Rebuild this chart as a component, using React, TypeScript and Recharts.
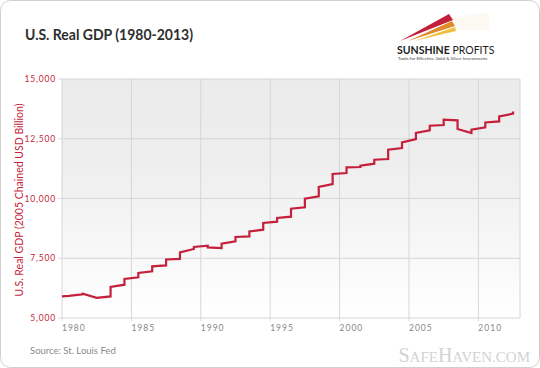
import React from "react";
import { CartesianGrid, Line, LineChart, XAxis, YAxis } from "recharts";

// values (billions of chained 2005 USD)
const startYear = 1980;
const startGdp = 5904;

const stepYears = [
  1980.5, 1981.5, 1982.5, 1983.5, 1984.5, 1985.5, 1986.5, 1987.5, 1988.5, 1989.5, 1990.5,
  1991.5, 1992.5, 1993.5, 1994.5, 1995.5, 1996.5, 1997.5, 1998.5, 1999.5, 2000.5, 2001.5,
  2002.5, 2003.5, 2004.5, 2005.5, 2006.5, 2007.5, 2008.5, 2009.5, 2010.5, 2011.5, 2012.5
];

const gdpBeforeStep = [
  5925, 5995, 5840, 5904, 6393, 6699, 6951, 7201, 7475, 7887, 8025,
  7929, 8205, 8414, 8694, 9032, 9241, 9630, 10088, 10607, 11067, 11318,
  11456, 11652, 12113, 12489, 12851, 13075, 13268, 12740, 12975, 13226, 13548
];

const gdpAfterStep = [
  5925, 6015, 5840, 6297, 6632, 6883, 7160, 7450, 7745, 7970, 7955,
  8109, 8389, 8623, 8975, 9185, 9573, 9992, 10481, 11025, 11301, 11372,
  11623, 12042, 12347, 12740, 13046, 13297, 12908, 12879, 13184, 13435, 13644
];

const yearTicks = [1980, 1985, 1990, 1995, 2000, 2005, 2010];
const gdpTicks = [5000, 7500, 10000, 12500, 15000];

const data = [{ year: startYear, gdp: startGdp }];
stepYears.forEach((y, i) => {
  data.push({ year: y, gdp: gdpBeforeStep[i] });
  data.push({ year: y, gdp: gdpAfterStep[i] });
});

const RED = "#c41f3b";
const fmt = new Intl.NumberFormat("en-US");

function YearTick(props: any) {
  const { x, y, payload } = props;
  return (
    <text x={x} y={y + 8} textAnchor="start" fontSize={8.5} letterSpacing={1} fill="#888" fontFamily="Lato">
      {payload.value}
    </text>
  );
}

function GdpTick(props: any) {
  const { x, y, payload } = props;
  return (
    <text x={x} y={y + 3} textAnchor="end" fontSize={8.5} letterSpacing={0.8} fill={RED} fontFamily="Lato">
      {fmt.format(payload.value)}
    </text>
  );
}

export default function App() {
  return (
    <div style={{ position: "absolute", left: 0, top: 0, width: 540, height: 368, background: "#fff" }}>
      <svg width={540} height={368} style={{ position: "absolute", left: 0, top: 0 }}>
        <rect x={0.5} y={0.5} width={539} height={367} rx={10} fill="#fff" stroke="#cfcfcf" />
        <text
          x={25}
          y={40}
          fontFamily="Lato"
          fontWeight="bold"
          fontSize={16}
          fill="#2e2e2e"
          textLength={168}
          lengthAdjust="spacingAndGlyphs"
        >
          U.S. Real GDP (1980-2013)
        </text>
        {/* logo */}
        <polygon points="453,18 488,12 490,30 456,30" fill="#f3e3cc" opacity={0.25} />
        <polygon points="400,41 449,14 453,20" fill="#c41f3b" />
        <polygon points="408,41 452,21 455,26" fill="#e08a2a" />
        <polygon points="414,41 455,27 456,31" fill="#f0c040" />
        <text x={397} y={54} fontFamily="Lato" fontSize={10.5} fill="#222">
          <tspan fontWeight="bold">SUNSHINE</tspan>
          <tspan> PROFITS</tspan>
        </text>
        <text x={398} y={60} fontFamily="Lato" fontSize={4.6} fill="#444">
          Tools for Effective Gold &amp; Silver Investments
        </text>
        <text
          transform="translate(23,200) rotate(-90)"
          textAnchor="middle"
          fontFamily="Lato"
          fontSize={10.5}
          fill={RED}
        >
          U.S. Real GDP (2005 Chained USD Billion)
        </text>
        <text x={30} y={354} fontFamily="Lato" fontSize={9.5} fill="#8a8a8a">
          Source: St. Louis Fed
        </text>
        <text x={530} y={362} textAnchor="end" fontFamily="Liberation Serif" fill="#d2d2d2">
          <tspan fontSize={20}>S</tspan>
          <tspan fontSize={15}>AFE</tspan>
          <tspan fontSize={20}>H</tspan>
          <tspan fontSize={15}>AVEN.COM</tspan>
        </text>
      </svg>
      <div style={{ position: "absolute", left: 0, top: 0 }}>
        <LineChart width={540} height={368} data={data} margin={{ top: 79, right: 20, bottom: 30, left: 8 }}>
          <defs>
            <linearGradient id="plotBg" x1="0" y1="0" x2="0" y2="1">
              <stop offset="0%" stopColor="#ebebeb" />
              <stop offset="35%" stopColor="#eeeeee" />
              <stop offset="100%" stopColor="#ffffff" />
            </linearGradient>
          </defs>
          <CartesianGrid stroke="#d6d6d6" fill="url(#plotBg)" fillOpacity={1} />
          <XAxis
            dataKey="year"
            type="number"
            domain={[1980, 2013]}
            ticks={yearTicks}
            allowDuplicatedCategory
            axisLine={false}
            tickLine={{ stroke: "#dcdcdc" }}
            tickSize={3}
            height={20}
            tick={<YearTick />}
          />
          <YAxis
            domain={[5000, 15000]}
            ticks={gdpTicks}
            axisLine={false}
            tickLine={{ stroke: "#dcdcdc" }}
            tickSize={4}
            width={54}
            tick={<GdpTick />}
          />
          <Line
            type="linear"
            dataKey="gdp"
            stroke={RED}
            strokeWidth={2.2}
            dot={false}
            isAnimationActive={false}
          />
        </LineChart>
      </div>
    </div>
  );
}
